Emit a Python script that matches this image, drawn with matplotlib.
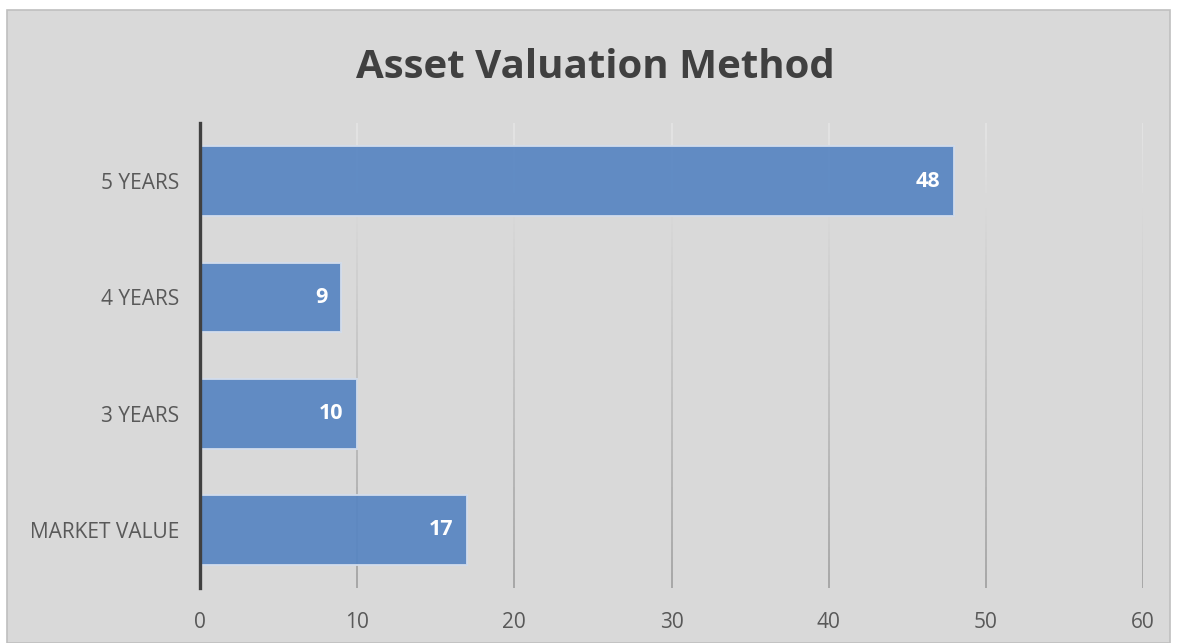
import numpy as np
import matplotlib
matplotlib.use("Agg")
import matplotlib.pyplot as plt
from matplotlib.collections import LineCollection
from matplotlib.patches import Rectangle

categories = ["MARKET VALUE", "3 YEARS", "4 YEARS", "5 YEARS"]
values = [17, 10, 9, 48]
xticks = [0, 10, 20, 30, 40, 50, 60]
title = "Asset Valuation Method"

W, H = 1177, 643
fig = plt.figure(figsize=(W / 100, H / 100), dpi=100)
fig.patch.set_facecolor("white")
bg = Rectangle((7 / W, 0), (1170 - 7) / W, (H - 10) / H,
               transform=fig.transFigure, facecolor="#D9D9D9",
               edgecolor="#BFBFBF", linewidth=1.2, zorder=-10)
fig.patches.append(bg)

ax = fig.add_axes([200 / W, 1 - 588 / H, (1143 - 200) / W, (588 - 123) / H])
ax.set_facecolor("none")
ax.set_zorder(5)

y = np.arange(len(categories))
ax.set_xlim(0, 60)
ax.set_ylim(-0.5, len(categories) - 0.5)

# gradient gridlines
n = 60
segs, cols = [], []
ys = np.linspace(-0.5, len(categories) - 0.5, n + 1)
top_c = np.array([0.90, 0.90, 0.90])
bot_c = np.array([0.64, 0.64, 0.64])
for xv in xticks[1:]:
    for i in range(n):
        segs.append([(xv, ys[i]), (xv, ys[i + 1])])
        t = (ys[i] + 0.5) / len(categories)
        cols.append(tuple(bot_c + (top_c - bot_c) * t))
lc = LineCollection(segs, colors=cols, linewidths=1.3, zorder=1)
ax.add_collection(lc)

ax.barh(y, values, height=0.6, color=(87 / 255, 133 / 255, 194 / 255),
        alpha=0.92, edgecolor="#D3DDEC", linewidth=1.4, zorder=2)

for yi, v in zip(y, values):
    ax.annotate(str(v), xy=(v, yi), xytext=(-10, 0), textcoords="offset points",
                ha="right", va="center", color="white", fontsize=15.5,
                fontweight="bold", family="Open Sans", zorder=3)

ax.set_yticks(y)
ax.set_yticklabels(categories, family="Open Sans", fontsize=15, color="#595959")
ax.set_xticks(xticks)
ax.set_xticklabels([str(t) for t in xticks], family="Open Sans", fontsize=15,
                   color="#595959")
ax.tick_params(axis="both", length=0)
ax.tick_params(axis="y", pad=15)
ax.tick_params(axis="x", pad=17.5)

for s in ["top", "right", "bottom"]:
    ax.spines[s].set_visible(False)
ax.spines["left"].set_color("#404040")
ax.spines["left"].set_linewidth(2.4)
ax.spines["left"].set_zorder(4)

fig.text(595 / W, 1 - 68 / H, title, ha="center", va="center", fontsize=29,
         fontweight="bold", family="Open Sans", color="#404040")

fig.savefig("out.png", dpi=100)
